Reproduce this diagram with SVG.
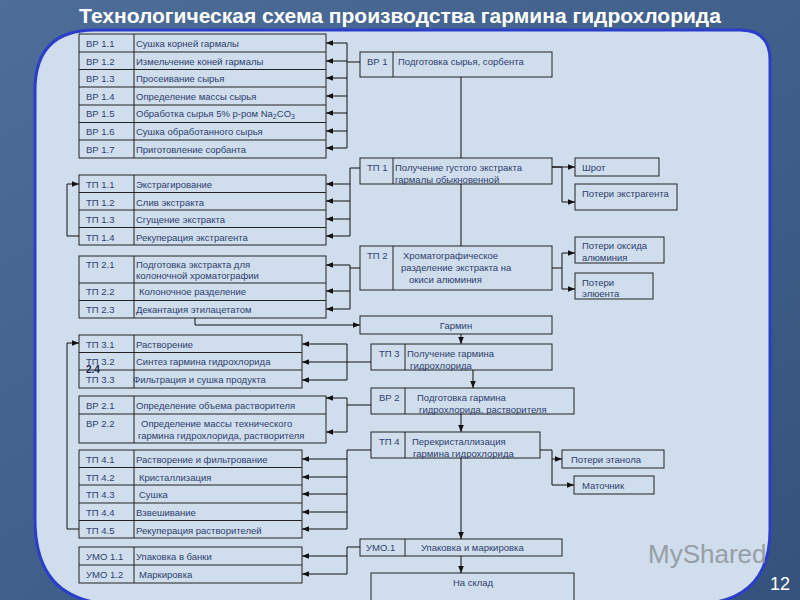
<svg xmlns="http://www.w3.org/2000/svg" width="800" height="600" viewBox="0 0 800 600">
<style>
.b{fill:none;stroke:#222;stroke-width:1}
.t{font-family:"Liberation Sans",Arial,sans-serif;font-size:9.5px;fill:#2e3f6e}
.l{fill:none;stroke:#111;stroke-width:1}
.a{fill:none;stroke:#111;stroke-width:1;marker-end:url(#ar)}
</style>
<defs>
<marker id="ar" viewBox="0 0 10 10" refX="10" refY="5" markerWidth="7" markerHeight="7" orient="auto" markerUnits="userSpaceOnUse"><path d="M0,1 L10,5 L0,9 z" fill="#111"/></marker>
<linearGradient id="bg" x1="0" y1="0" x2="1" y2="1"><stop offset="0" stop-color="#4d6e99"/><stop offset="1" stop-color="#34527c"/></linearGradient>
</defs>
<rect width="800" height="600" fill="url(#bg)"/>
<path d="M95,30 L740,30 Q770,30 770,60 L770,530 Q770,600 700,604 L110,604 Q35,600 35,520 L35,90 Q35,30 95,30 Z" fill="#d0ddec" stroke="#2b3ec9" stroke-width="3"/>
<text x="400" y="23" text-anchor="middle" font-family="Liberation Sans,Arial,sans-serif" font-size="21" font-weight="bold" fill="#fff">Технологическая схема производства гармина гидрохлорида</text>
<text x="780" y="590" text-anchor="middle" font-family="Liberation Sans,Arial,sans-serif" font-size="18" fill="#fff">12</text>
<text x="648" y="563" font-family="Liberation Sans,Arial,sans-serif" font-size="26" fill="#8a8f96" opacity="0.8">MyShared</text>

<g id="bp1x">
<rect class="b" x="79" y="34" width="247" height="124"/><line class="b" x1="134" y1="34" x2="134" y2="158"/>
<path class="b" d="M79,52H326M79,69.5H326M79,87H326M79,105H326M79,122.5H326M79,140H326"/>
<text class="t" x="86" y="47">ВР 1.1</text><text class="t" x="136" y="47">Сушка корней гармалы</text>
<text class="t" x="86" y="64.5">ВР 1.2</text><text class="t" x="136" y="64.5">Измельчение коней гармалы</text>
<text class="t" x="86" y="82">ВР 1.3</text><text class="t" x="136" y="82">Просеивание сырья</text>
<text class="t" x="86" y="99.5">ВР 1.4</text><text class="t" x="136" y="99.5">Определение массы сырья</text>
<text class="t" x="86" y="117">ВР 1.5</text><text class="t" x="136" y="117">Обработка сырья 5% р-ром Na<tspan font-size="7" dy="2">2</tspan><tspan dy="-2">CO</tspan><tspan font-size="7" dy="2">3</tspan></text>
<text class="t" x="86" y="135">ВР 1.6</text><text class="t" x="136" y="135">Сушка обработанного сырья</text>
<text class="t" x="86" y="152.5">ВР 1.7</text><text class="t" x="136" y="152.5">Приготовление сорбанта</text>
</g>
<g id="tp1x">
<rect class="b" x="79" y="175" width="247" height="70"/><line class="b" x1="134" y1="175" x2="134" y2="245"/>
<path class="b" d="M79,192.5H326M79,210H326M79,227.5H326"/>
<text class="t" x="86" y="188">ТП 1.1</text><text class="t" x="136" y="188">Экстрагирование</text>
<text class="t" x="86" y="205.5">ТП 1.2</text><text class="t" x="136" y="205.5">Слив экстракта</text>
<text class="t" x="86" y="223">ТП 1.3</text><text class="t" x="136" y="223">Сгущение экстракта</text>
<text class="t" x="86" y="240.5">ТП 1.4</text><text class="t" x="136" y="240.5">Рекуперация экстрагента</text>
</g>
<g id="tp2x">
<rect class="b" x="79" y="256" width="247" height="62"/><line class="b" x1="134" y1="256" x2="134" y2="318"/>
<path class="b" d="M79,283H326M79,300.5H326"/>
<text class="t" x="86" y="268">ТП  2.1</text><text class="t" x="136" y="268">Подготовка экстракта для</text><text class="t" x="136" y="279">колоночной хроматографии</text>
<text class="t" x="86" y="295">ТП  2.2</text><text class="t" x="139" y="295">Колоночное разделение</text>
<text class="t" x="86" y="313">ТП  2.3</text><text class="t" x="136" y="313">Декантация этилацетатом</text>
</g>
<g id="tp3x">
<rect class="b" x="79" y="335" width="223" height="53"/><line class="b" x1="134" y1="335" x2="134" y2="388"/>
<path class="b" d="M79,352.5H302M79,370H302"/>
<text class="t" x="86" y="347.5">ТП 3.1</text><text class="t" x="136" y="347.5">Растворение</text>
<text class="t" x="86" y="365">ТП 3.2</text><text class="t" x="136" y="365">Синтез гармина гидрохлорида</text>
<text class="t" x="86" y="383">ТП 3.3</text><text class="t" x="133" y="383">Фильтрация и сушка продукта</text>
<text x="86" y="373" font-family="Liberation Sans,Arial,sans-serif" font-size="10" font-weight="bold" fill="#1a2a50">2.4</text>
</g>
<g id="bp2x">
<rect class="b" x="79" y="396" width="247" height="47"/><line class="b" x1="134" y1="396" x2="134" y2="443"/>
<path class="b" d="M79,414H326"/>
<text class="t" x="86" y="409">ВР 2.1</text><text class="t" x="136" y="409">Определение объема растворителя</text>
<text class="t" x="86" y="427">ВР 2.2</text><text class="t" x="141" y="427">Определение массы технического</text><text class="t" x="138" y="439">гармина гидрохлорида, растворителя</text>
</g>
<g id="tp4x">
<rect class="b" x="79" y="450" width="223" height="88"/><line class="b" x1="134" y1="450" x2="134" y2="538"/>
<path class="b" d="M79,467.5H302M79,485H302M79,503H302M79,520.5H302"/>
<text class="t" x="86" y="463">ТП 4.1</text><text class="t" x="136" y="463">Растворение и фильтрование</text>
<text class="t" x="86" y="480.5">ТП 4.2</text><text class="t" x="139" y="480.5">Кристаллизация</text>
<text class="t" x="86" y="498">ТП 4.3</text><text class="t" x="139" y="498">Сушка</text>
<text class="t" x="86" y="516">ТП  4.4</text><text class="t" x="136" y="516">Взвешивание</text>
<text class="t" x="86" y="533.5">ТП 4.5</text><text class="t" x="136" y="533.5">Рекуперация растворителей</text>
</g>
<g id="umox">
<rect class="b" x="79" y="547" width="223" height="36"/><line class="b" x1="134" y1="547" x2="134" y2="583"/>
<path class="b" d="M79,565H302"/>
<text class="t" x="86" y="560">УМО 1.1</text><text class="t" x="136" y="560">Упаковка в банки</text>
<text class="t" x="86" y="578">УМО 1.2</text><text class="t" x="139" y="578">Маркировка</text>
</g>

<g id="bp1"><rect class="b" x="360" y="52" width="192" height="25"/><line class="b" x1="393" y1="52" x2="393" y2="77"/>
<text class="t" x="367" y="65">ВР 1</text><text class="t" x="398" y="65">Подготовка сырья, сорбента</text></g>
<g id="tp1"><rect class="b" x="360" y="158" width="192" height="26"/><line class="b" x1="393" y1="158" x2="393" y2="184"/>
<text class="t" x="367" y="171">ТП 1</text><text class="t" x="395" y="171">Получение густого экстракта</text><text class="t" x="395" y="183">гармалы обыкновенной</text></g>
<g id="shrot"><rect class="b" x="575" y="158" width="84" height="18"/><text class="t" x="582" y="171">Шрот</text></g>
<g id="pext"><rect class="b" x="575" y="184" width="102" height="26"/><text class="t" x="582" y="197">Потери экстрагента</text></g>
<g id="tp2"><rect class="b" x="360" y="246" width="192" height="44"/><line class="b" x1="393" y1="246" x2="393" y2="290"/>
<text class="t" x="367" y="259">ТП 2</text><text class="t" x="403" y="259">Хроматографическое</text><text class="t" x="401" y="271">разделение экстракта на</text><text class="t" x="409" y="283">окиси алюминия</text></g>
<g id="pox"><rect class="b" x="575" y="237" width="89" height="26"/><text class="t" x="582" y="249">Потери оксида</text><text class="t" x="582" y="261">алюминия</text></g>
<g id="pel"><rect class="b" x="575" y="273" width="78" height="26"/><text class="t" x="582" y="286">Потери</text><text class="t" x="582" y="297">элюента</text></g>
<g id="garmin"><rect class="b" x="360" y="316" width="192" height="18"/><text class="t" x="456" y="329" text-anchor="middle">Гармин</text></g>
<g id="tp3"><rect class="b" x="371" y="344" width="181" height="26"/><line class="b" x1="405" y1="344" x2="405" y2="370"/>
<text class="t" x="379" y="357">ТП 3</text><text class="t" x="407" y="357">Получение гармина</text><text class="t" x="410" y="369">гидрохлорида</text></g>
<g id="bp2"><rect class="b" x="371" y="388" width="203" height="26"/><line class="b" x1="405" y1="388" x2="405" y2="414"/>
<text class="t" x="379" y="401">ВР 2</text><text class="t" x="417" y="401">Подготовка гармина</text><text class="t" x="419" y="413">гидрохлорида,  растворителя</text></g>
<g id="tp4"><rect class="b" x="371" y="432" width="169" height="26"/><line class="b" x1="405" y1="432" x2="405" y2="458"/>
<text class="t" x="379" y="445">ТП 4</text><text class="t" x="412" y="445">Перекристаллизация</text><text class="t" x="413" y="457">гармина гидрохлорида</text></g>
<g id="peth"><rect class="b" x="562" y="450" width="102" height="18"/><text class="t" x="571" y="463">Потери этанола</text></g>
<g id="mat"><rect class="b" x="574" y="476" width="80" height="18"/><text class="t" x="582" y="489">Маточник</text></g>
<g id="umo"><rect class="b" x="360" y="539" width="202" height="17"/><line class="b" x1="405" y1="539" x2="405" y2="556"/>
<text class="t" x="366" y="551">УМО.1</text><text class="t" x="421" y="551">Упаковка и    маркировка</text></g>
<g id="sklad"><rect class="b" x="371" y="573" width="203" height="30"/><text class="t" x="473" y="586" text-anchor="middle">На склад</text></g>

<g id="connectors">
<path class="l" d="M360,62H347M347,43V148"/>
<path class="a" d="M347,43H326"/><path class="a" d="M347,61H326"/><path class="a" d="M347,78H326"/><path class="a" d="M347,96H326"/><path class="a" d="M347,113H326"/><path class="a" d="M347,131H326"/><path class="a" d="M347,148H326"/>
<path class="l" d="M461,77V158M461,184V246"/>
<path class="l" d="M360,168H350V236"/>
<path class="a" d="M350,184H326"/><path class="a" d="M350,201H326"/><path class="a" d="M350,219H326"/><path class="a" d="M350,236H326"/>
<path class="a" d="M79,236H67V184H79"/>
<path class="l" d="M552,167H562V202"/><path class="a" d="M552,167H575"/><path class="a" d="M562,202H575"/>
<path class="l" d="M360,268H350V309M350,265V268"/>
<path class="a" d="M350,265H326"/><path class="a" d="M350,291H326"/><path class="a" d="M350,309H326"/>
<path class="l" d="M552,268H562M562,253V289"/><path class="a" d="M562,253H575"/><path class="a" d="M562,289H575"/>
<path class="a" d="M195,318V325H360"/>
<path class="a" d="M461,334V344"/>
<path class="l" d="M371,362H347M347,344V380"/>
<path class="a" d="M347,344H302"/><path class="a" d="M347,362H302"/><path class="a" d="M347,380H302"/>
<path class="a" d="M473,370V388"/>
<path class="l" d="M371,405H347M347,398V432"/>
<path class="a" d="M347,398H326"/><path class="a" d="M347,432H326"/>
<path class="a" d="M461,414V432"/>
<path class="l" d="M371,450H347V529"/>
<path class="a" d="M347,459H302"/><path class="a" d="M347,477H302"/><path class="a" d="M347,494H302"/><path class="a" d="M347,512H302"/><path class="a" d="M347,529H302"/>
<path class="a" d="M79,529H67V343H79"/>
<path class="l" d="M540,450H552V485"/><path class="a" d="M552,459H562"/><path class="a" d="M552,485H574"/>
<path class="a" d="M461,458V539"/>
<path class="l" d="M360,547H347V574"/>
<path class="a" d="M347,556H302"/><path class="a" d="M347,574H302"/>
<path class="a" d="M461,556V573"/>
</g>
</svg>
